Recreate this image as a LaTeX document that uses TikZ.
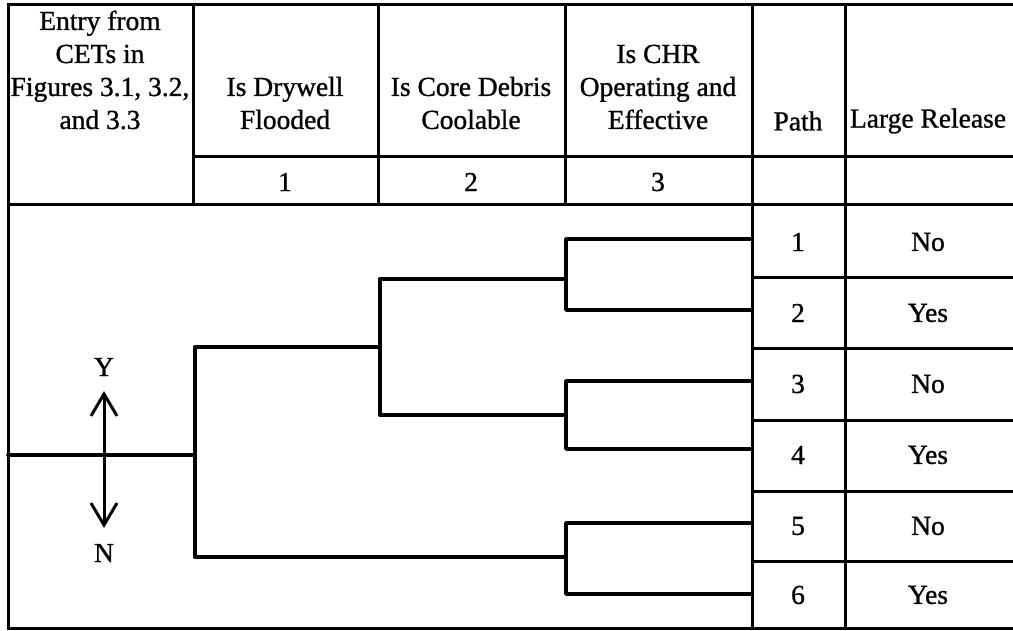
\documentclass[tikz,border=0pt]{standalone}
\usepackage{fontspec}
\setmainfont{Liberation Serif}[UprightFeatures={FakeBold=1}]
\usetikzlibrary{arrows.meta}
\begin{document}
\begin{tikzpicture}[x=1pt,y=-1pt,
  grid/.style={line width=3pt},
  branch/.style={line width=3.6pt, line cap=round, line join=round},
  txt/.style={font=\fontsize{27.5}{33}\selectfont, align=center, inner sep=0pt},
  yn/.style={line width=3pt, {Straight Barb[length=22pt,width=26pt,line width=3pt]}-{Straight Barb[length=22pt,width=26pt,line width=3pt]}}
]
\useasboundingbox (0,0) rectangle (1013,631);
% table frame
\draw[grid] (1013,5) -- (8,5) -- (8,628) -- (1013,628);
\draw[grid] (8,205) -- (1013,205);
\draw[grid] (193,157) -- (1013,157);
\foreach \x in {193,378,565} \draw[grid] (\x,5) -- (\x,205);
\foreach \x in {752,845} \draw[grid] (\x,5) -- (\x,628);
\foreach \y in {278,349,420,491,561} \draw[grid] (752,\y) -- (1013,\y);
% header text
\node[txt] (h0) at (100,70) {Entry from\\CETs in\\Figures 3.1, 3.2,\\and 3.3};
\node[txt] (h1) at (285,103) {Is Drywell\\Flooded};
\node[txt] (h2) at (471,103) {Is Core Debris\\Coolable};
\node[txt] (h3) at (658,87) {Is CHR\\Operating and\\Effective};
\node[txt] (h4) at (798,121) {Path};
\node[txt] (h5) at (928,121) {Large Release};
\node[txt] (n1) at (285,182) {1};
\node[txt] (n2) at (471,182) {2};
\node[txt] (n3) at (658,182) {3};
% paths and results
\foreach \i/\y/\r in {1/242/No,2/313/Yes,3/384/No,4/455/Yes,5/526/No,6/595/Yes}{
  \node[txt] (p\i) at (798,\y) {\i};
  \node[txt] (r\i) at (928,\y) {\r};
}
% tree
\coordinate (entry) at (8,455);
\coordinate (s1) at (195,455);
\coordinate (s1t) at (195,347);
\coordinate (s1b) at (195,557);
\coordinate (s2) at (380,347);
\coordinate (s2t) at (380,279);
\coordinate (s2b) at (380,415);
\coordinate (s3a) at (566,279);
\coordinate (s3b) at (566,415);
\coordinate (s3c) at (566,557);
\coordinate (e1) at (752,239);
\coordinate (e2) at (752,310);
\coordinate (e3) at (752,381);
\coordinate (e4) at (752,449);
\coordinate (e5) at (752,523);
\coordinate (e6) at (752,594);
\draw[branch] (entry) -- (s1);
\draw[branch] (s1t) -- (s1b);
\draw[branch] (s1t) -- (s2);
\draw[branch] (s1b) -- (s3c);
\draw[branch] (s2t) -- (s2b);
\draw[branch] (s2t) -- (s3a);
\draw[branch] (s2b) -- (s3b);
\draw[branch] (e1) -| (s3a) |- (e2);
\draw[branch] (e3) -| (s3b) |- (e4);
\draw[branch] (e5) -| (s3c) |- (e6);
% Y / N arrow
\node[txt] (Y) at (104,367) {Y};
\node[txt] (N) at (104,553) {N};
\coordinate (ya) at (104,391);
\coordinate (na) at (104,528);
\draw[yn] (ya) -- (na);
\end{tikzpicture}
\end{document}
